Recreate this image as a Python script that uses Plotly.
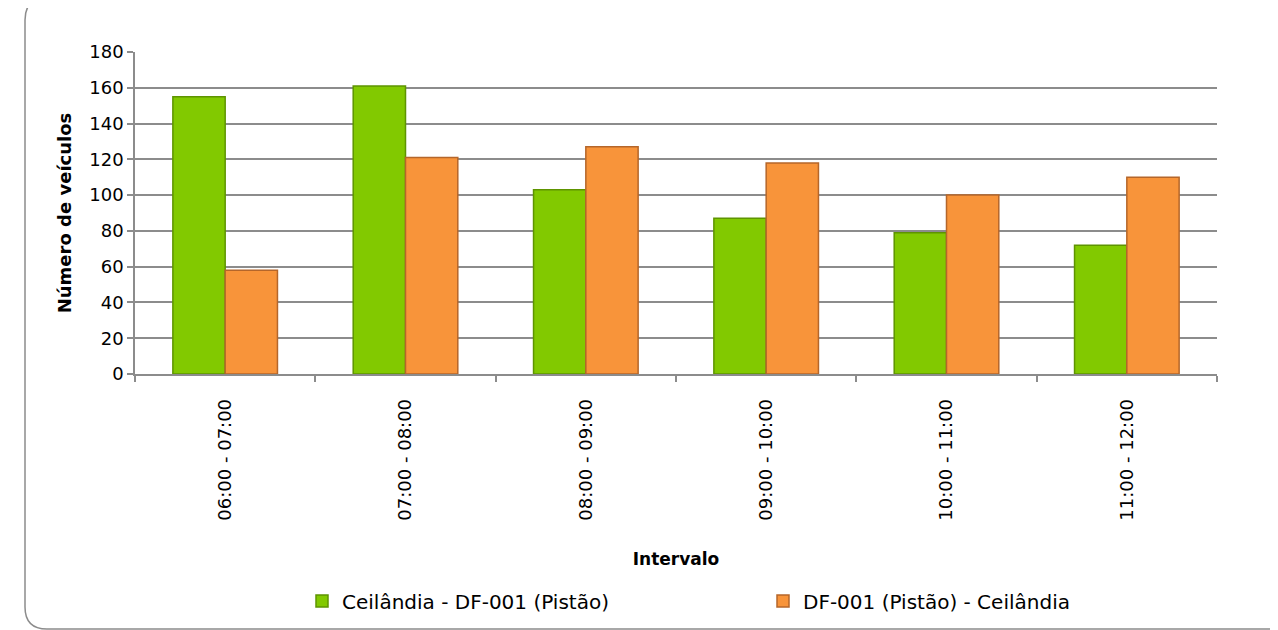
import plotly.graph_objects as go

categories = ["06:00 - 07:00", "07:00 - 08:00", "08:00 - 09:00", "09:00 - 10:00", "10:00 - 11:00", "11:00 - 12:00"]
series_green_name = "Ceilândia - DF-001 (Pistão)"
series_orange_name = "DF-001 (Pistão) - Ceilândia"
green_values = [155, 161, 103, 87, 79, 72]
orange_values = [58, 121, 127, 118, 100, 110]

# page has an 8px body margin; work in reference pixel coords and subtract it
OFF = 8
W, H = 1278 - OFF, 630 - OFF
L, T = 135 - OFF, 52 - OFF
pw, ph = 1217 - 135, 374 - 52
R, B = W - L - pw, H - T - ph

def px(x):
    return (x - OFF - L) / pw

def py(y):
    return (T + ph - (y - OFF)) / ph

FONT = "DejaVu Sans"

fig = go.Figure()
fig.add_trace(go.Bar(
    x=categories, y=green_values, name=series_green_name, legend="legend",
    marker=dict(color="#82c900", line=dict(color="#5e9400", width=1.5)),
))
fig.add_trace(go.Bar(
    x=categories, y=orange_values, name=series_orange_name, legend="legend2",
    marker=dict(color="#f8943a", line=dict(color="#b5662a", width=1.5)),
))

# rounded border box (reference pixel coords)
x0, x1, y0, y1, r = 25, 1300, -2, 629, 22
path = (
    f"M {px(x0)},{py(y0 + r)} "
    f"Q {px(x0)},{py(y0)} {px(x0 + r)},{py(y0)} "
    f"L {px(x1 - r)},{py(y0)} "
    f"Q {px(x1)},{py(y0)} {px(x1)},{py(y0 + r)} "
    f"L {px(x1)},{py(y1 - r)} "
    f"Q {px(x1)},{py(y1)} {px(x1 - r)},{py(y1)} "
    f"L {px(x0 + r)},{py(y1)} "
    f"Q {px(x0)},{py(y1)} {px(x0)},{py(y1 - r)} Z"
)
fig.add_shape(type="path", path=path, xref="paper", yref="paper",
              line=dict(color="#8c8c8c", width=1.5), layer="below")

leg_common = dict(orientation="h", xanchor="left", yanchor="middle", y=py(601),
                  font=dict(family=FONT, size=20, color="#000000"),
                  itemwidth=30, bgcolor="rgba(0,0,0,0)")

fig.update_layout(
    width=W, height=H,
    margin=dict(l=L, r=R, t=T, b=B, autoexpand=False),
    paper_bgcolor="white", plot_bgcolor="white",
    barmode="group", bargap=0.42, bargroupgap=0.0,
    font=dict(family=FONT, size=17, color="#000000"),
    showlegend=True,
    legend=dict(x=px(302), **leg_common),
    legend2=dict(x=px(763), **leg_common),
    xaxis=dict(
        type="category", automargin=False,
        tickangle=-90,
        showline=True, linecolor="#8c8c8c", linewidth=1.5,
        ticks="outside", tickson="boundaries", ticklen=6, tickcolor="#8c8c8c", tickwidth=1.5,
        ticklabelstandoff=16,
        tickfont=dict(family=FONT, size=18),
        title=dict(text="<b>Intervalo</b>", font=dict(family=FONT, size=17), standoff=33),
        showgrid=False,
    ),
    yaxis=dict(
        range=[0, 180], dtick=20, automargin=False,
        showline=True, linecolor="#8c8c8c", linewidth=1.5,
        ticks="outside", ticklen=6, tickcolor="#8c8c8c", tickwidth=1.5,
        showgrid=True, gridcolor="#8c8c8c", gridwidth=1.5,
        tickfont=dict(family=FONT, size=18),
        title=dict(text="<b>Número de veículos</b>", font=dict(family=FONT, size=18), standoff=13),
        zeroline=False,
    ),
)

fig.write_html("out.html")
